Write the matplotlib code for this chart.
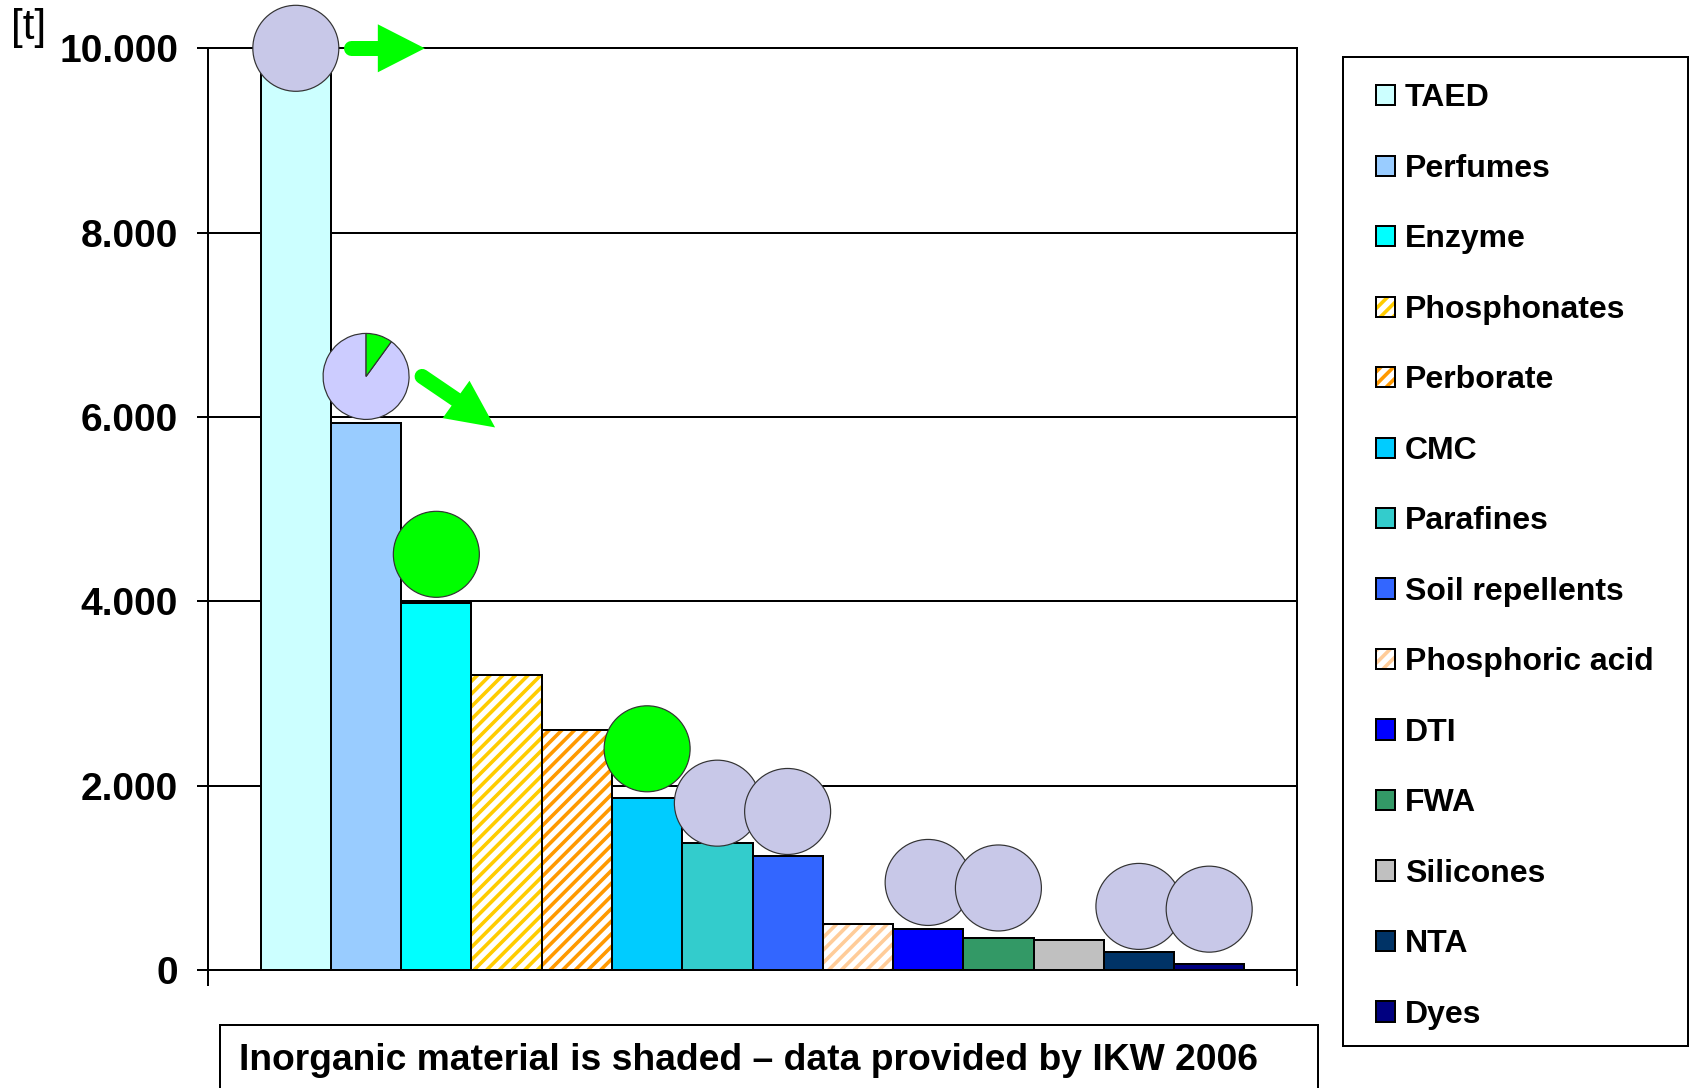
import numpy as np
import matplotlib
matplotlib.use('Agg')
import matplotlib.pyplot as plt
import matplotlib.transforms as mtransforms
from matplotlib.patches import Patch, Rectangle, Wedge, Circle, Polygon
from matplotlib.lines import Line2D
from matplotlib.legend_handler import HandlerTuple

DPI = 76.5


def pt(px):
    # pixel sizes -> points at the output resolution
    return px * 72 / DPI


substances = ['TAED', 'Perfumes', 'Enzyme', 'Phosphonates', 'Perborate', 'CMC',
              'Parafines', 'Soil repellents', 'Phosphoric acid', 'DTI', 'FWA',
              'Silicones', 'NTA', 'Dyes']
tonnes = [9950, 5940, 3980, 3200, 2600, 1870, 1380, 1240, 500, 450, 350, 330, 190, 70]
colors = ['#CCFFFF', '#99CCFF', '#00FFFF', '#FFCC00', '#FF9900', '#00CCFF', '#33CCCC',
          '#3366FF', '#FFCC99', '#0000FF', '#339966', '#C0C0C0', '#003366', '#000080']
inorganic = [False, False, False, True, True, False, False, False, True,
             False, False, False, False, False]

# circle markers above the bars: centre height and green share
circle_level = [10000, 6440, 4510, None, None, 2400, 1810, 1720, None, 950, 890, None, 690, 660]
green_share = [0, 0.1, 1, None, None, 1, 0, 0, None, 0, 0, None, 0, 0]

yticks = [0, 2000, 4000, 6000, 8000, 10000]
ytick_labels = ['0', '2.000', '4.000', '6.000', '8.000', '10.000']

GREEN = '#00FF00'
LILAC = '#C8C8E8'
FONT = 'Liberation Sans'
HATCH = '//'

plt.rcParams['hatch.linewidth'] = pt(3.6)

fig = plt.figure(figsize=(1690 / DPI, 1088 / DPI), dpi=DPI)
ax = fig.add_axes([208 / 1690, 1 - 970 / 1088, (1297 - 208) / 1690, (970 - 48.3) / 1088])

x = np.arange(len(substances))
for i in range(len(substances)):
    if inorganic[i]:
        ax.bar(x[i], tonnes[i], width=1, color='white', edgecolor=colors[i],
               hatch=HATCH, linewidth=0, zorder=2)
        ax.bar(x[i], tonnes[i], width=1, fill=False, edgecolor='black',
               linewidth=pt(2), zorder=3)
    else:
        ax.bar(x[i], tonnes[i], width=1, color=colors[i], edgecolor='black',
               linewidth=pt(2), zorder=2)

ax.set_xlim(-1.25, 14.25)
ax.set_ylim(0, 10000)
ax.set_axisbelow(True)
ax.yaxis.grid(True, color='black', linewidth=pt(2))

for s in ax.spines.values():
    s.set_linewidth(pt(2))
    s.set_color('black')

ax.set_xticks([-1.25, 14.25])
ax.set_xticklabels([])
ax.tick_params(axis='x', direction='out', length=pt(16), width=pt(2))
ax.set_yticks(yticks)
ax.set_yticklabels(ytick_labels, family=FONT, weight='bold', size=pt(39))
ax.tick_params(axis='y', direction='out', length=pt(11), width=pt(2), pad=pt(19))


def marker_frame(i):
    # inch coordinates centred on the marker above bar i
    return fig.dpi_scale_trans + mtransforms.ScaledTranslation(x[i], circle_level[i], ax.transData)


R = 43 / DPI
for i, share in enumerate(green_share):
    if share is None:
        continue
    T = marker_frame(i)
    style = dict(transform=T, clip_on=False, zorder=4, edgecolor='#333333', linewidth=pt(1.2))
    if share == 0:
        ax.add_patch(Circle((0, 0), R, facecolor=LILAC, **style))
    elif share == 1:
        ax.add_patch(Circle((0, 0), R, facecolor=GREEN, **style))
    else:
        ax.add_patch(Wedge((0, 0), R, 90, 450 - share * 360, facecolor='#CCCCFF', **style))
        ax.add_patch(Wedge((0, 0), R, 90 - share * 360, 90, facecolor=GREEN, **style))


def arrow(i, start, base, tip, half):
    T = marker_frame(i)
    s, b, t = (np.array(p, float) / DPI for p in (start, base, tip))
    d = (t - b) / np.hypot(*(t - b))
    n = np.array([-d[1], d[0]])
    ax.add_line(Line2D([s[0], b[0] + d[0] * 0.05], [s[1], b[1] + d[1] * 0.05],
                       transform=T, color=GREEN, linewidth=pt(15),
                       solid_capstyle='round', clip_on=False, zorder=5))
    h = half / DPI
    ax.add_patch(Polygon([b + n * h, t, b - n * h], closed=True, transform=T,
                         facecolor=GREEN, edgecolor='none', clip_on=False, zorder=5))


arrow(0, (55, 0), (82, 0), (129, 0), 24)
arrow(1, (56, 0), (90, -23), (129, -51), 23)

# legend
handles = []
for c, inorg in zip(colors, inorganic):
    if inorg:
        handles.append((Patch(facecolor='white', edgecolor=c, hatch=HATCH, linewidth=0),
                        Patch(fill=False, edgecolor='black', linewidth=pt(2))))
    else:
        handles.append(Patch(facecolor=c, edgecolor='black', linewidth=pt(2)))

fs = 32
fig.legend(handles, substances, loc='upper left',
           bbox_to_anchor=(1376 / 1690, 1 - 83.5 / 1088),
           handler_map={tuple: HandlerTuple(ndivide=1, pad=0)}, frameon=False,
           prop=dict(family=FONT, weight='bold', size=pt(fs)),
           handlelength=19 / fs, handleheight=19 / fs, handletextpad=10 / fs,
           labelspacing=1.265, borderpad=0, borderaxespad=0)
fig.add_artist(Rectangle((1343 / 1690, 1 - 1046 / 1088), (1688 - 1343) / 1690,
                         (1046 - 57) / 1088, transform=fig.transFigure,
                         fill=False, edgecolor='black', linewidth=pt(2)))

# unit label and footnote
fig.text(11 / 1690, 1 - 8 / 1088, '[t]', va='top', ha='left', family=FONT, size=pt(42))
fig.add_artist(Rectangle((220 / 1690, 1 - 1110 / 1088), (1318 - 220) / 1690,
                         85 / 1088, transform=fig.transFigure,
                         fill=False, edgecolor='black', linewidth=pt(2)))
fig.text(239 / 1690, 1 - 1061 / 1088,
         'Inorganic material is shaded \u2013 data provided by IKW 2006',
         va='center', ha='left', family=FONT, weight='bold', size=pt(37.2))

fig.savefig('out.png', dpi=DPI)
